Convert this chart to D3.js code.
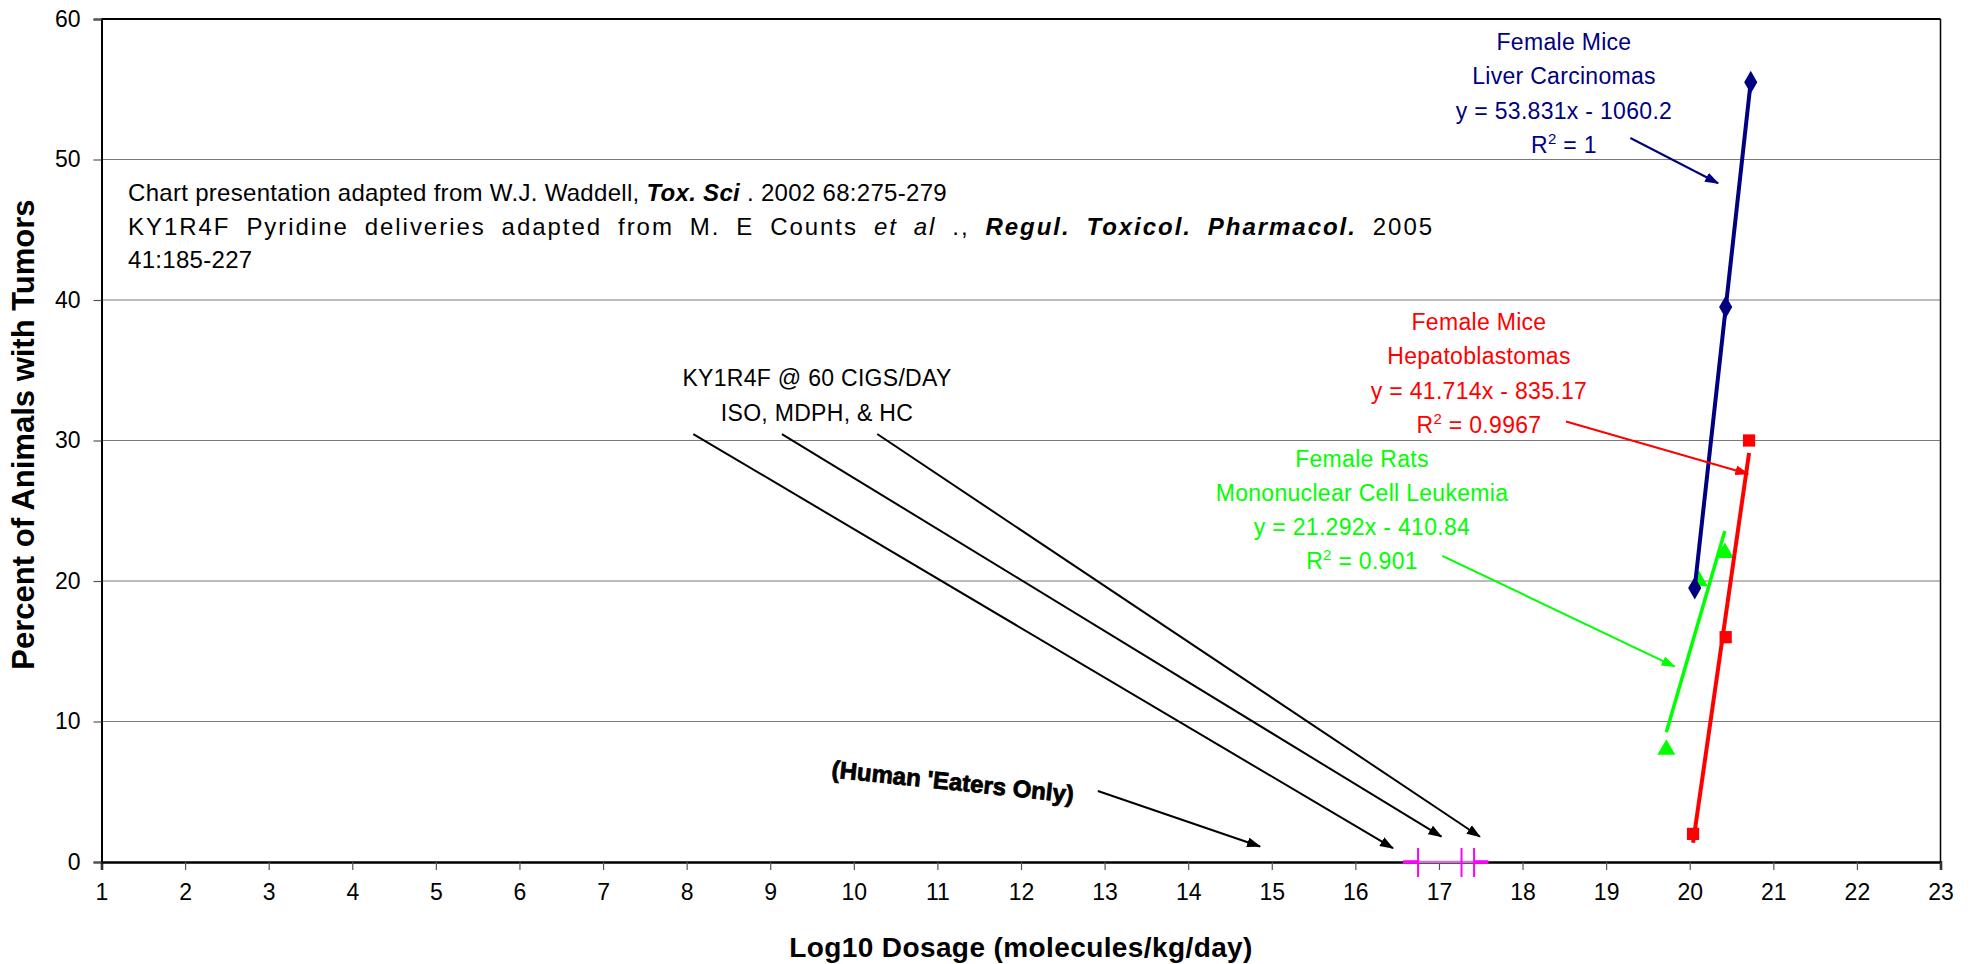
<!DOCTYPE html>
<html>
<head>
<meta charset="utf-8">
<script src="https://cdn.jsdelivr.net/npm/d3@7"></script>
<style>
  html, body { margin: 0; padding: 0; background: #fff; }
  text { font-family: "Liberation Sans", Arial, sans-serif; }
</style>
</head>
<body>
<div id="chart-area"></div>
<script>
// series (x = log10 dose, y = % animals with tumors)
const liverDose = [20.06, 20.43, 20.73];
const liverPct = [19.5, 39.5, 55.5];
const hepatoDose = [20.04, 20.43, 20.71];
const hepatoPct = [2, 16, 30];
const leukDose = [19.72, 20.11, 20.42];
const leukPct = [8, 20, 22];
const humanDose = [16.75, 17.27, 17.42];
const humanRange = [16.57, 17.59];

const xTicks = d3.range(1, 24);
const yTicks = [0, 10, 20, 30, 40, 50, 60];

const width = 1973;
const height = 964;
const margin = {left: 101.5, right: 32.5, top: 19, bottom: 102};

const svg = d3.select('#chart-area')
  .append('svg')
  .attr('width', width)
  .attr('height', height);

const x = d3.scaleLinear().domain([1, 23]).range([margin.left, width - margin.right]);
const y = d3.scaleLinear().domain([0, 60]).range([height - margin.bottom, margin.top]);

// arrow heads
const defs = svg.append('defs');
[['blk', '#000'], ['navy', '#000080'], ['red', '#ff0000'], ['grn', '#00ff00']].forEach(([id, c]) => {
  defs.append('marker')
    .attr('id', 'ah-' + id)
    .attr('markerUnits', 'userSpaceOnUse')
    .attr('viewBox', '0 0 14 10')
    .attr('refX', 13).attr('refY', 5)
    .attr('markerWidth', 14).attr('markerHeight', 10)
    .attr('orient', 'auto')
    .append('path')
    .attr('d', 'M0,0 L14,5 L0,10 Z')
    .attr('fill', c);
});

// grid
svg.append('g')
  .selectAll('line')
  .data(yTicks.filter(d => d > 0 && d < 60))
  .join('line')
  .attr('x1', x(1)).attr('x2', x(23))
  .attr('y1', d => y(d)).attr('y2', d => y(d))
  .attr('stroke', '#7a7a7a')
  .attr('stroke-width', 1);

// frame
svg.append('line').attr('x1', x(1)).attr('x2', x(23)).attr('y1', y(60)).attr('y2', y(60))
  .attr('stroke', '#000').attr('stroke-width', 2);
svg.append('line').attr('x1', x(23)).attr('x2', x(23)).attr('y1', y(60)).attr('y2', y(0))
  .attr('stroke', '#000').attr('stroke-width', 1.5);

// axes
const xAxis = svg.append('g')
  .attr('transform', `translate(0,${y(0)})`)
  .call(d3.axisBottom(x).tickValues(xTicks).tickSize(8).tickPadding(14).tickFormat(d3.format('d')));
xAxis.select('.domain').attr('stroke', '#000').attr('stroke-width', 2.5);
xAxis.selectAll('.tick line').attr('stroke', '#555').attr('stroke-width', 1.2);
xAxis.selectAll('.tick text').attr('font-size', 23).attr('fill', '#000')
  .attr('font-family', '"Liberation Sans", Arial, sans-serif');

const yAxis = svg.append('g')
  .attr('transform', `translate(${x(1)},0)`)
  .call(d3.axisLeft(y).tickValues(yTicks).tickSize(8).tickPadding(13));
yAxis.select('.domain').attr('stroke', '#000').attr('stroke-width', 2);
yAxis.selectAll('.tick line').attr('stroke', '#555').attr('stroke-width', 1.2);
yAxis.selectAll('.tick text').attr('font-size', 23).attr('fill', '#000')
  .attr('font-family', '"Liberation Sans", Arial, sans-serif');

// axis titles
svg.append('text')
  .attr('x', (x(1) + x(23)) / 2).attr('y', 957)
  .attr('text-anchor', 'middle')
  .attr('font-size', 28).attr('font-weight', 'bold').attr('letter-spacing', 0.4)
  .text('Log10 Dosage (molecules/kg/day)');

svg.append('text')
  .attr('transform', `translate(34,${(y(0) + y(60)) / 2 - 6}) rotate(-90)`)
  .attr('text-anchor', 'middle')
  .attr('font-size', 31).attr('font-weight', 'bold')
  .text('Percent of Animals with Tumors');

// human exposure markers on the x axis
svg.append('line')
  .attr('x1', x(humanRange[0])).attr('x2', x(humanRange[1]))
  .attr('y1', y(0)).attr('y2', y(0))
  .attr('stroke', '#d070d0').attr('stroke-width', 2.5);
svg.append('line')
  .attr('x1', x(humanRange[0])).attr('x2', x(humanDose[0]))
  .attr('y1', y(0)).attr('y2', y(0))
  .attr('stroke', '#ff00ff').attr('stroke-width', 3.5);
svg.append('line')
  .attr('x1', x(humanDose[2])).attr('x2', x(humanRange[1]))
  .attr('y1', y(0)).attr('y2', y(0))
  .attr('stroke', '#ff00ff').attr('stroke-width', 3.5);
svg.append('g')
  .selectAll('line')
  .data(humanDose)
  .join('line')
  .attr('x1', d => x(d)).attr('x2', d => x(d))
  .attr('y1', y(0) - 14).attr('y2', y(0) + 15)
  .attr('stroke', '#ff00ff').attr('stroke-width', 2);

// trendlines (least squares over each series' x range)
function trend(xs, ys) {
  const mx = d3.mean(xs), my = d3.mean(ys);
  const b = d3.sum(xs, (v, i) => (v - mx) * (ys[i] - my)) / d3.sum(xs, v => (v - mx) * (v - mx));
  const a = my - b * mx;
  const x0 = d3.min(xs), x1 = d3.max(xs);
  return [[x0, a + b * x0], [x1, a + b * x1]];
}

const series = [
  {dose: leukDose, pct: leukPct, color: '#00ff00', w: 3.5, sym: d3.symbolTriangle, size: 140},
  {dose: hepatoDose, pct: hepatoPct, color: '#ff0000', w: 4, sym: d3.symbolSquare, size: 150},
  {dose: liverDose, pct: liverPct, color: '#000080', w: 4, sym: d3.symbolDiamond, size: 150}
];

const line = d3.line().x(d => x(d[0])).y(d => y(d[1]));

series.forEach(s => {
  svg.append('path')
    .attr('d', line(trend(s.dose, s.pct)))
    .attr('stroke', s.color)
    .attr('stroke-width', s.w)
    .attr('fill', 'none');
  svg.append('g')
    .selectAll('path')
    .data(s.dose)
    .join('path')
    .attr('transform', (d, i) => `translate(${x(d)},${y(s.pct[i])})`)
    .attr('d', d3.symbol().type(s.sym).size(s.size))
    .attr('fill', s.color);
});

// annotation arrows, in data units
const arrows = [
  {from: [8.08, 30.46], to: [16.45, 0.98], c: 'blk', color: '#000'},
  {from: [9.14, 30.46], to: [17.03, 1.8], c: 'blk', color: '#000'},
  {from: [10.28, 30.46], to: [17.49, 1.8], c: 'blk', color: '#000'},
  {from: [12.92, 5.05], to: [14.86, 1.1], c: 'blk', color: '#000'},
  {from: [19.29, 51.53], to: [20.34, 48.31], c: 'navy', color: '#000080'},
  {from: [18.52, 31.35], to: [20.7, 27.62], c: 'red', color: '#ff0000'},
  {from: [17.04, 21.79], to: [19.82, 13.91], c: 'grn', color: '#00ff00'}
];

svg.append('g')
  .selectAll('line')
  .data(arrows)
  .join('line')
  .attr('x1', d => x(d.from[0])).attr('y1', d => y(d.from[1]))
  .attr('x2', d => x(d.to[0])).attr('y2', d => y(d.to[1]))
  .attr('stroke', d => d.color)
  .attr('stroke-width', 2)
  .attr('marker-end', d => `url(#ah-${d.c})`);

// labels
function label(lines, cx, y0, dy, color) {
  const t = svg.append('text')
    .attr('text-anchor', 'middle')
    .attr('font-size', 23)
    .attr('letter-spacing', 0.3)
    .attr('fill', color);
  lines.forEach((l, i) => {
    const ts = t.append('tspan').attr('x', cx).attr('y', y0 + i * dy);
    if (Array.isArray(l)) {
      ts.append('tspan').text(l[0]);
      ts.append('tspan').attr('font-size', 15).attr('dy', -9).text('2');
      ts.append('tspan').attr('dy', 9).text(l[1]);
    } else {
      ts.text(l);
    }
  });
}

label(['Female Mice', 'Liver Carcinomas', 'y = 53.831x - 1060.2', ['R', ' = 1']], 1564, 50, 34.3, '#000080');
label(['Female Mice', 'Hepatoblastomas', 'y = 41.714x - 835.17', ['R', ' = 0.9967']], 1479, 330, 34.3, '#ff0000');
label(['Female Rats', 'Mononuclear Cell Leukemia', 'y = 21.292x - 410.84', ['R', ' = 0.901']], 1362, 467, 34, '#00ff00');
label(['KY1R4F @ 60 CIGS/DAY', 'ISO, MDPH, & HC'], 817, 386, 35, '#000');

// citation block
const citeX = 128;
const l1 = svg.append('text').attr('x', citeX).attr('y', 201).attr('font-size', 24).attr('letter-spacing', 0.3);
l1.append('tspan').text('Chart presentation adapted from W.J. Waddell, ');
l1.append('tspan').attr('font-weight', 'bold').attr('font-style', 'italic').text('Tox. Sci');
l1.append('tspan').text(' . 2002 68:275-279');
const l2 = svg.append('text').attr('x', citeX).attr('y', 234.5).attr('font-size', 24).attr('letter-spacing', 0.3);
l2.append('tspan').text('KY1R4F Pyridine deliveries adapted from M. E Counts ');
l2.append('tspan').attr('font-style', 'italic').text('et al');
l2.append('tspan').text(' ., ');
l2.append('tspan').attr('font-weight', 'bold').attr('font-style', 'italic').text('Regul. Toxicol. Pharmacol.');
l2.append('tspan').text(' 2005');
// the second line runs wider in the original: spread the extra over letters and gaps
const l2txt = l2.text();
const l2extra = 1306 - l2.node().getComputedTextLength();
if (l2extra > 0) {
  const gaps = l2txt.split(' ').length - 1;
  l2.attr('letter-spacing', 0.3 + 0.6 * l2extra / l2txt.length)
    .attr('word-spacing', 0.4 * l2extra / gaps);
}
svg.append('text').attr('x', citeX).attr('y', 268).attr('font-size', 24).attr('letter-spacing', 0.3)
  .text('41:185-227');

svg.append('text')
  .attr('transform', 'translate(952,790) rotate(6)')
  .attr('text-anchor', 'middle')
  .attr('font-family', '"DejaVu Sans", sans-serif')
  .attr('font-weight', 'bold')
  .attr('font-size', 24)
  .attr('stroke', '#000').attr('stroke-width', 0.8)
  .text("(Human 'Eaters Only)");
</script>
</body>
</html>
